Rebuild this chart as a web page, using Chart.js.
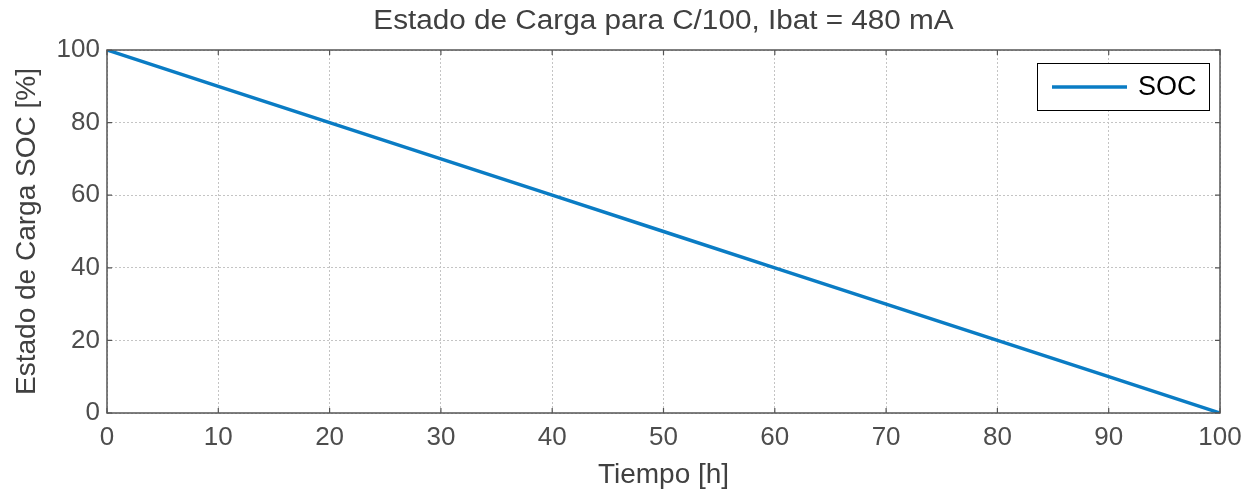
<!DOCTYPE html>
<html>
<head>
<meta charset="utf-8">
<script src="https://cdn.jsdelivr.net/npm/chart.js@4/dist/chart.umd.min.js"></script>
<style>
  html, body { margin: 0; padding: 0; background: #fff; }
  #wrap { width: 1256px; height: 492px; }
</style>
</head>
<body>
<div id="wrap"><canvas id="socChart" width="1256" height="492"></canvas></div>
<script>
// Data
const hours = [0, 10, 20, 30, 40, 50, 60, 70, 80, 90, 100];
const soc = [100, 90, 80, 70, 60, 50, 40, 30, 20, 10, 0];
const xTicks = [0, 10, 20, 30, 40, 50, 60, 70, 80, 90, 100];
const yTicks = [0, 20, 40, 60, 80, 100];
const chartTitle = 'Estado de Carga para C/100, Ibat = 480 mA';

const axisColor = '#555555';
const textColor = '#404040';
const tickColor = '#4d4d4d';
const lineColor = '#0A7CC4';
const fontFamily = '"Liberation Sans", Arial, sans-serif';

// title centred on the plot area, slightly wide glyphs like the original
const matlabTitle = {
    id: 'matlabTitle',
    afterDraw(chart) {
        const { ctx, chartArea: a } = chart;
        ctx.save();
        ctx.font = '27px ' + fontFamily;
        ctx.fillStyle = textColor;
        ctx.textAlign = 'center';
        ctx.textBaseline = 'alphabetic';
        ctx.translate((a.left + a.right) / 2, 28.5);
        ctx.scale(1.1, 1);
        ctx.fillText(chartTitle, 0, 0);
        ctx.restore();
    }
};

// frame, inward ticks and boxed legend
const matlabFrame = {
    id: 'matlabFrame',
    afterDatasetsDraw(chart) {
        const { ctx, chartArea: a, scales } = chart;
        ctx.save();
        ctx.strokeStyle = axisColor;
        ctx.lineWidth = 1.5;
        ctx.strokeRect(a.left, a.top, a.right - a.left, a.bottom - a.top);

        ctx.lineWidth = 1.2;
        ctx.beginPath();
        xTicks.forEach(v => {
            const px = scales.x.getPixelForValue(v);
            ctx.moveTo(px, a.bottom); ctx.lineTo(px, a.bottom - 5);
            ctx.moveTo(px, a.top); ctx.lineTo(px, a.top + 5);
        });
        yTicks.forEach(v => {
            const py = scales.y.getPixelForValue(v);
            ctx.moveTo(a.left, py); ctx.lineTo(a.left + 5, py);
            ctx.moveTo(a.right, py); ctx.lineTo(a.right - 5, py);
        });
        ctx.stroke();

        // legend box
        const bx = a.right - 183, by = a.top + 13, bw = 172, bh = 47;
        ctx.fillStyle = '#ffffff';
        ctx.fillRect(bx, by, bw, bh);
        ctx.strokeStyle = '#000000';
        ctx.lineWidth = 1;
        ctx.strokeRect(bx + 0.5, by + 0.5, bw, bh);
        ctx.strokeStyle = lineColor;
        ctx.lineWidth = 3.5;
        ctx.beginPath();
        ctx.moveTo(bx + 15, by + 24);
        ctx.lineTo(bx + 90, by + 24);
        ctx.stroke();
        ctx.fillStyle = '#000000';
        ctx.font = '27px ' + fontFamily;
        ctx.textBaseline = 'middle';
        ctx.textAlign = 'left';
        ctx.fillText(chart.data.datasets[0].label, bx + 101, by + 25);
        ctx.restore();
    }
};

const chart = new Chart(document.getElementById('socChart'), {
    type: 'line',
    data: {
        datasets: [{
            label: 'SOC',
            data: hours.map((h, i) => ({ x: h, y: soc[i] })),
            borderColor: lineColor,
            borderWidth: 3.5,
            pointRadius: 0,
            tension: 0,
            fill: false
        }]
    },
    options: {
        responsive: false,
        animation: false,
        layout: { padding: { left: 0, right: 36, top: 50, bottom: 0 } },
        plugins: {
            legend: { display: false },
            tooltip: { enabled: false },
            title: { display: false }
        },
        scales: {
            x: {
                type: 'linear',
                min: 0,
                max: 100,
                afterBuildTicks: s => { s.ticks = xTicks.map(v => ({ value: v })); },
                afterFit: s => { s.height = 79; },
                grid: { color: '#c4c4c4', drawTicks: false },
                border: { display: false, dash: [2, 2] },
                ticks: {
                    color: tickColor,
                    padding: 9,
                    maxRotation: 0,
                    font: { family: fontFamily, size: 26 }
                },
                title: {
                    display: true,
                    text: 'Tiempo [h]',
                    color: textColor,
                    padding: { top: 0, bottom: 0 },
                    font: { family: fontFamily, size: 28 }
                }
            },
            y: {
                min: 0,
                max: 100,
                afterBuildTicks: s => { s.ticks = yTicks.map(v => ({ value: v })); },
                afterFit: s => { s.width = 107; },
                grid: { color: '#c4c4c4', drawTicks: false },
                border: { display: false, dash: [2, 2] },
                ticks: {
                    color: tickColor,
                    padding: 7,
                    font: { family: fontFamily, size: 26 }
                },
                title: {
                    display: true,
                    text: 'Estado de Carga SOC [%]',
                    color: textColor,
                    padding: { top: 10, bottom: 0 },
                    font: { family: fontFamily, size: 28 }
                }
            }
        }
    },
    plugins: [matlabFrame, matlabTitle]
});
</script>
</body>
</html>
